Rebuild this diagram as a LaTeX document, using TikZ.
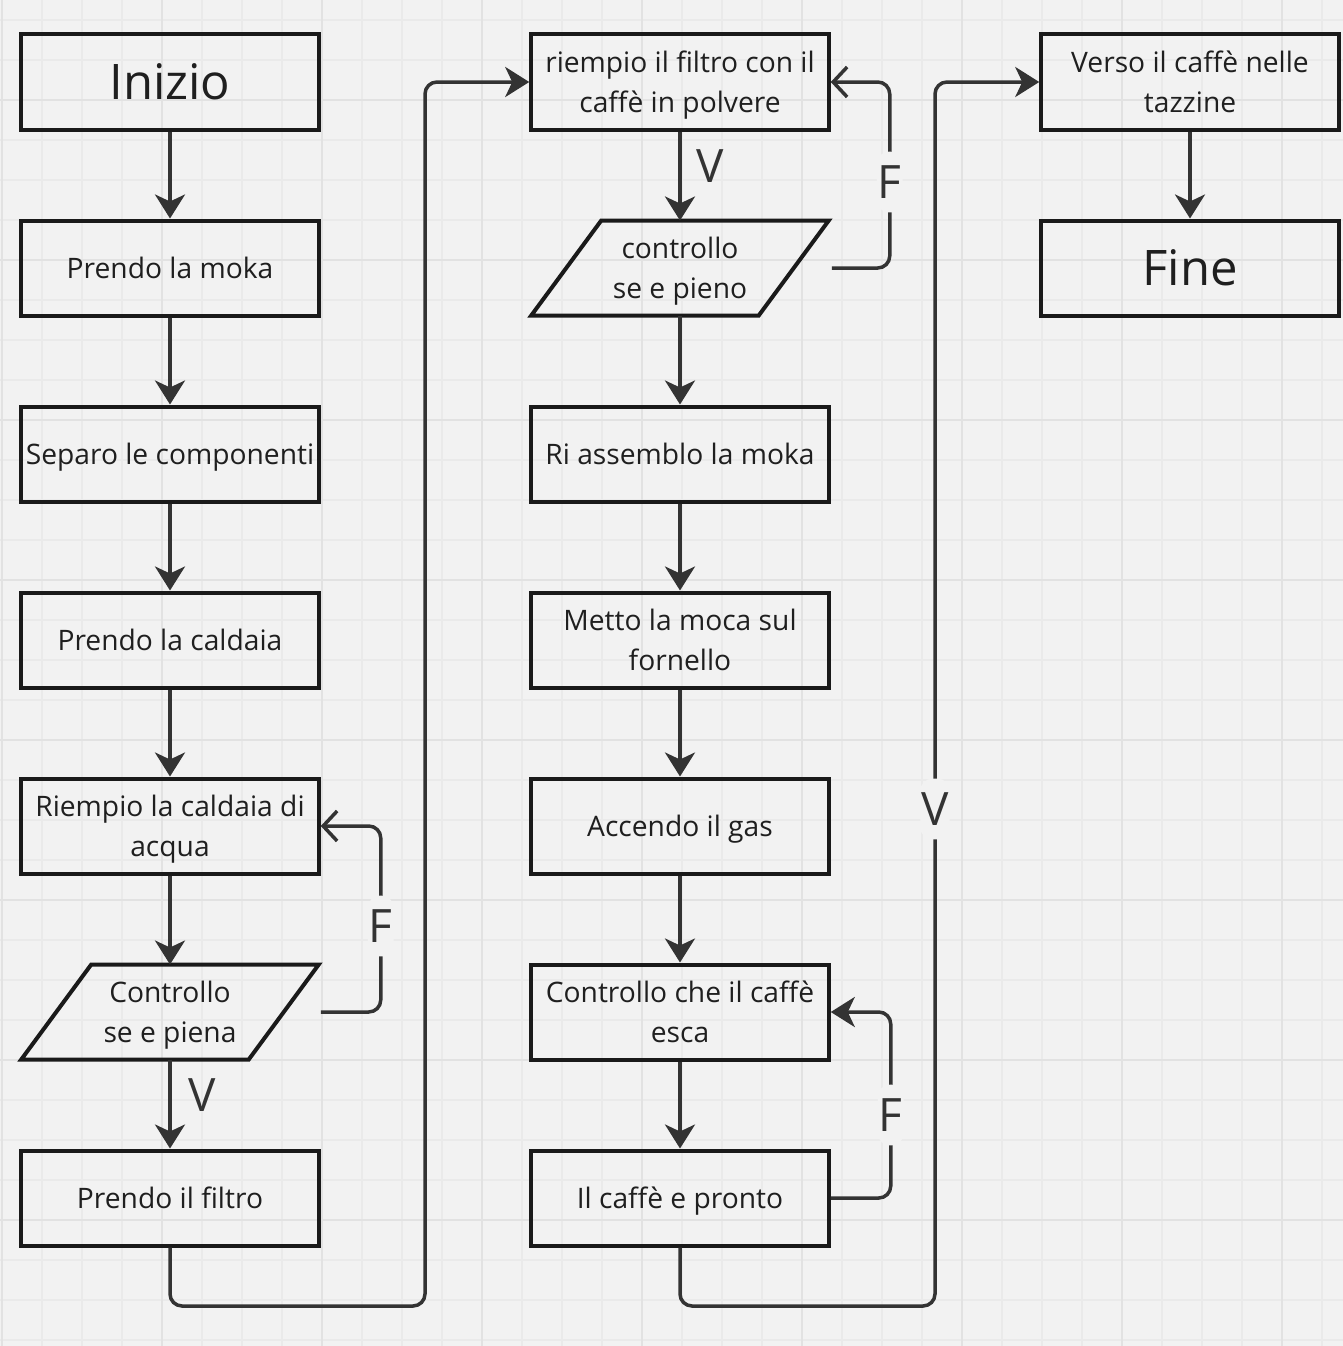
\documentclass[tikz,border=0pt]{standalone}
\usepackage{fontspec}
\setmainfont{Open Sans}
\usetikzlibrary{arrows.meta,calc}
\definecolor{bg}{HTML}{F2F2F2}
\definecolor{gridminor}{HTML}{EAEAEA}
\definecolor{gridmajor}{HTML}{E2E2E2}
\definecolor{boxc}{HTML}{1A1A1A}
\definecolor{linec}{HTML}{333333}
\definecolor{txt}{HTML}{1F1F1F}
\tikzset{
  box/.style={draw=boxc, line width=4pt, minimum width=297.5pt, minimum height=95pt,
    inner sep=0pt, font=\fontsize{28.2}{40}\selectfont, text=txt, align=center, text depth=0pt},
  big/.style={font=\fontsize{49}{56}\selectfont},
  pnode/.style={minimum width=297.5pt, minimum height=95pt, inner sep=0pt, outer sep=0pt,
    font=\fontsize{28.2}{40}\selectfont, text=txt, align=center, text depth=0pt},
  pshape/.style={draw=boxc, line width=4pt},
  conn/.style={draw=linec, line width=3.5pt, rounded corners=12pt},
  arr/.style={conn, -{Stealth[length=24pt,width=30pt,inset=7pt]}},
  oarr/.style={conn, -{Straight Barb[length=14pt,width=30pt]}},
  lab/.style={fill=bg, text=linec, font=\fontsize{46}{46}\selectfont, inner xsep=1pt, inner ysep=14pt},
  vlab/.style={text=linec, font=\fontsize{46}{46}\selectfont, inner sep=0pt},
  gmin/.style={draw=gridminor, line width=1.5pt},
  gmaj/.style={draw=gridmajor, line width=2.5pt}
}
\begin{document}
\begin{tikzpicture}[x=1pt,y=-1pt]
\fill[bg] (0,0) rectangle (1343,1346);
\useasboundingbox (0,0) rectangle (1343,1346);
\foreach \x in {2,42,...,1342} \draw[gmin] (\x,0) -- (\x,1346);
\foreach \y in {20,60,...,1340} \draw[gmin] (0,\y) -- (1343,\y);
\foreach \x in {2,162,...,1342} \draw[gmaj] (\x,0) -- (\x,1346);
\foreach \y in {100,260,...,1340} \draw[gmaj] (0,\y) -- (1343,\y);

% column 1
\node[box,big] (inizio) at (170,82) {Inizio};
\node[box] (moka) at (170,268) {Prendo la moka};
\node[box] (separo) at (170,454) {Separo le componenti};
\node[box] (caldaia) at (170,640) {Prendo la caldaia};
\node[box] (riempio) at (170,826) {Riempio la caldaia di\\acqua};
\node[pnode] (p1) at (170,1012) {Controllo\\se e piena};
\draw[pshape] ([xshift=70pt]p1.north west) -- (p1.north east) -- ([xshift=-70pt]p1.south east) -- (p1.south west) -- cycle;
\node[box] (filtro) at (170,1198) {Prendo il filtro};

% column 2
\node[box] (polvere) at (680,82) {riempio il filtro con il\\caffè in polvere};
\node[pnode] (p2) at (680,268) {controllo\\se e pieno};
\draw[pshape] ([xshift=70pt]p2.north west) -- (p2.north east) -- ([xshift=-70pt]p2.south east) -- (p2.south west) -- cycle;
\node[box] (assemblo) at (680,454) {Ri assemblo la moka};
\node[box] (fornello) at (680,640) {Metto la moca sul\\fornello};
\node[box] (gas) at (680,826) {Accendo il gas};
\node[box] (esca) at (680,1012) {Controllo che il caffè\\esca};
\node[box] (pronto) at (680,1198) {Il caffè e pronto};

% column 3
\node[box] (verso) at (1190,82) {Verso il caffè nelle\\tazzine};
\node[box,big] (fine) at (1190,268) {Fine};

\coordinate (c1) at (425,1306);
\coordinate (c2) at (935,1306);

% connectors column 1
\draw[arr] (inizio) -- (moka);
\draw[arr] (moka) -- (separo);
\draw[arr] (separo) -- (caldaia);
\draw[arr] (caldaia) -- (riempio);
\draw[arr] (riempio) -- (p1.north);
\draw[arr] (p1.south) -- node[vlab,pos=0.4,xshift=32pt]{V} (filtro);
\draw[oarr] ([xshift=2pt]p1.east) -- ++(60,0) |- node[lab,pos=0.231]{F} (riempio.east);
\draw[arr] (filtro.south) |- (c1) |- (polvere.west);

% connectors column 2
\draw[arr] (polvere) -- node[vlab,pos=0.386,xshift=30pt]{V} (p2.north);
\draw[oarr] ([xshift=3pt]p2.east) -- ++(58,0) |- node[lab,pos=0.231]{F} (polvere.east);
\draw[arr] (p2.south) -- (assemblo);
\draw[arr] (assemblo) -- (fornello);
\draw[arr] (fornello) -- (gas);
\draw[arr] (gas) -- (esca);
\draw[arr] (esca) -- (pronto);
\draw[arr] (pronto.east) -- ++(60,0) |- node[lab,pos=0.223]{F} (esca.east);
\draw[arr] (pronto.south) |- (c2) |- node[lab,pos=0.203]{V} (verso.west);

% column 3
\draw[arr] (verso) -- (fine);
\end{tikzpicture}
\end{document}
